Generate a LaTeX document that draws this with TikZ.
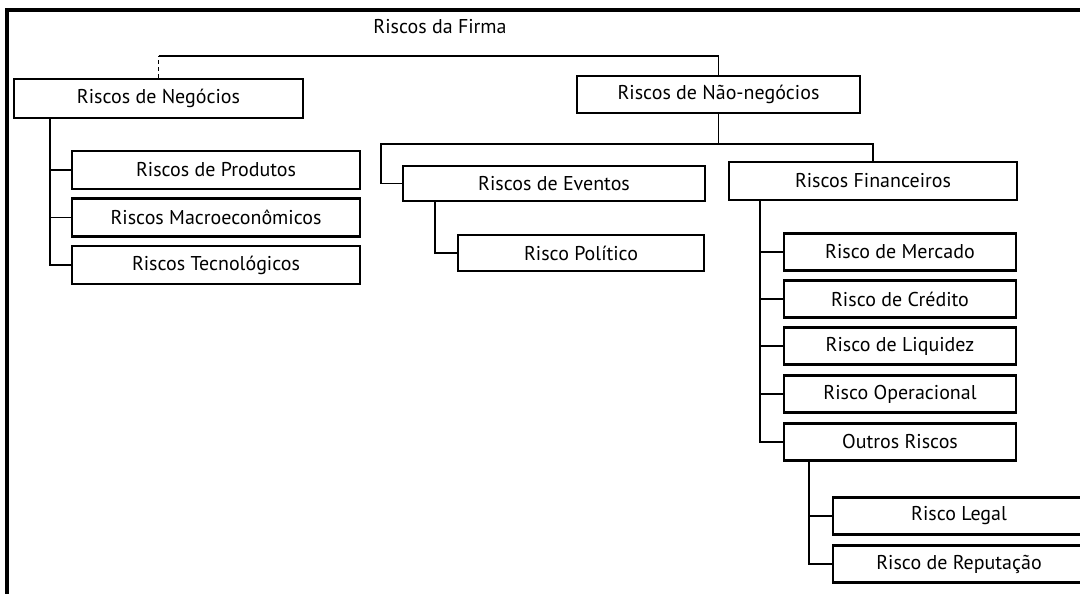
\documentclass[tikz,border=0pt]{standalone}
\usepackage{fontspec}
\setmainfont{PT Sans}
\begin{document}
\begin{tikzpicture}[x=0.025cm,y=-0.025cm,line width=1.4pt,
    font=\fontsize{14.2}{16}\selectfont]

        \useasboundingbox (0,0) rectangle (1080,593);
        \clip (0,0) rectangle (1080,593);

        \draw[line width=2.4pt] (7,600) -- (7,10) -- (1090,10);

        \node (firma) at (440,27) {Riscos da Firma};

        \begin{scope}[every node/.style={draw,rectangle,line width=1.7pt,inner sep=0pt}]
          \node[minimum width=7.225cm,minimum height=0.975cm] (neg)    at (158.5,98.5) {Riscos de Negócios};
          \node[minimum width=7.075cm,minimum height=0.925cm] (nao)    at (718.5,94.5) {Riscos de Não-negócios};
          \node[minimum width=7.2cm,minimum height=0.95cm]    (prod)   at (216,170)    {Riscos de Produtos};
          \node[minimum width=7.2cm,minimum height=0.95cm]    (macro)  at (216,217.5)  {Riscos Macroeconômicos};
          \node[minimum width=7.2cm,minimum height=0.95cm]    (tecno)  at (216,265)    {Riscos Tecnológicos};
          \node[minimum width=7.55cm,minimum height=0.875cm]  (evt)    at (554,183.5)  {Riscos de Eventos};
          \node[minimum width=6.15cm,minimum height=0.9cm]    (pol)    at (581,253)    {Risco Político};
          \node[minimum width=7.2cm,minimum height=0.95cm]    (fin)    at (873,181)    {Riscos Financeiros};
          \node[minimum width=5.8cm,minimum height=0.925cm]   (merc)   at (900,252)    {Risco de Mercado};
          \node[minimum width=5.8cm,minimum height=0.925cm]   (cred)   at (900,299)    {Risco de Crédito};
          \node[minimum width=5.8cm,minimum height=0.925cm]   (liq)    at (900,346)    {Risco de Liquidez};
          \node[minimum width=5.8cm,minimum height=0.925cm]   (oper)   at (900,394)    {Risco Operacional};
          \node[minimum width=5.8cm,minimum height=0.925cm]   (outros) at (900,442)    {Outros Riscos};
          \node[minimum width=6.3cm,minimum height=0.925cm]   (legal)  at (959,516)    {Risco Legal};
          \node[minimum width=6.3cm,minimum height=0.925cm]   (reput)  at (959,564)    {Risco de Reputação};
        \end{scope}

        \coordinate (top)  at (158.5,56);
        \coordinate (barL) at (381,144);
        \coordinate (tA)   at (50,0);
        \coordinate (tB)   at (435,0);
        \coordinate (tC)   at (760,0);
        \coordinate (tD)   at (809,0);

        \draw[line width=0.5pt,densely dashed] (neg.north) -- (top);
        \draw (top) -| (nao.north);

        \draw (nao.south) |- (barL) |- (evt.west);
        \draw (nao.south |- barL) -| (fin.north);

        \foreach \c in {prod,macro,tecno}
          \draw (neg.south -| tA) |- (\c.west);
        \draw (evt.south -| tB) |- (pol.west);
        \foreach \c in {merc,cred,liq,oper,outros}
          \draw (fin.south -| tC) |- (\c.west);
        \foreach \c in {legal,reput}
          \draw (outros.south -| tD) |- (\c.west);

      \end{tikzpicture}
\end{document}
